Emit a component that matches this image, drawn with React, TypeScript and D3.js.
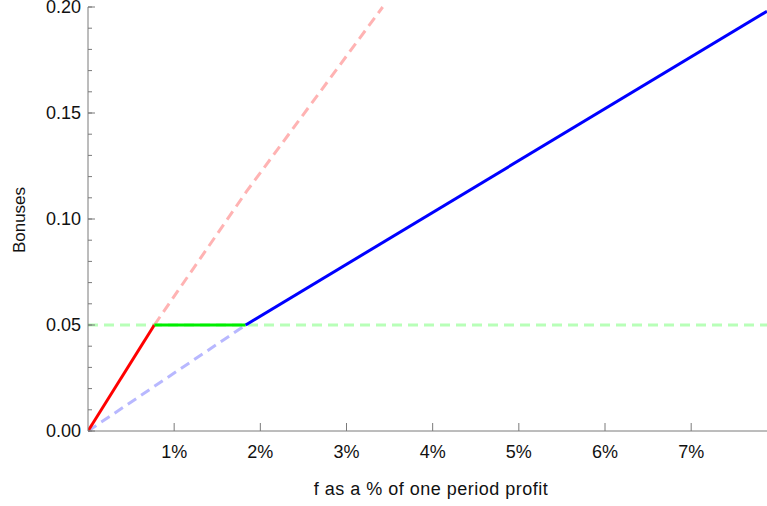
import React from "react";
import * as d3 from "d3";

// Bonus schedules against f (percent of one period profit)
const redSolidF = [0, 0.77];
const redSolidB = [0, 0.05];
const redDashF = [0.77, 1.84, 3.42];
const redDashB = [0.05, 0.113, 0.2];
const blueDashF = [0, 1.83];
const blueDashB = [0, 0.05];
const blueSolidF = [1.83, 7.88];
const blueSolidB = [0.05, 0.198];
const greenSolidF = [0.77, 1.83];
const greenSolidB = [0.05, 0.05];
const greenDashF = [0, 7.88];
const greenDashB = [0.05, 0.05];

const xTicks = [1, 2, 3, 4, 5, 6, 7];
const xTickLabels = ["1%", "2%", "3%", "4%", "5%", "6%", "7%"];
const yTicks = [0, 0.05, 0.1, 0.15, 0.2];
const yTickLabels = ["0.00", "0.05", "0.10", "0.15", "0.20"];
const yMinorTicks = d3.range(0, 21).map((i) => i / 100);

const W = 767;
const H = 506;
const FONT = "'Liberation Sans', Arial, sans-serif";
const AXIS = "#7a7a7a";

export default function App() {
  const x = d3.scaleLinear().domain([0, 7.88]).range([88, 767]);
  const y = d3.scaleLinear().domain([0, 0.2]).range([431, 7]);

  const path = (fs: number[], bs: number[]) =>
    d3
      .line<number>()
      .x((_, i) => x(fs[i]))
      .y((_, i) => y(bs[i]))(fs.map((_, i) => i)) || "";

  const series = [
    { f: greenDashF, b: greenDashB, color: "#b8ffb8", dash: "10,6" },
    { f: redDashF, b: redDashB, color: "#ffb3b3", dash: "10,6" },
    { f: blueDashF, b: blueDashB, color: "#b8b8ff", dash: "10,6" },
    { f: redSolidF, b: redSolidB, color: "#ff0000", dash: undefined },
    { f: greenSolidF, b: greenSolidB, color: "#00ee00", dash: undefined },
    { f: blueSolidF, b: blueSolidB, color: "#0000ff", dash: undefined },
  ];

  return (
    <svg
      width={W}
      height={H}
      style={{ position: "absolute", left: 0, top: 0, background: "#fff" }}
      fontFamily={FONT}
    >
      <defs>
        <clipPath id="plot">
          <rect x={88} y={y(0.2) - 2} width={W - 88} height={y(0) - y(0.2) + 4} />
        </clipPath>
      </defs>

      <g clipPath="url(#plot)">
        {series.map((s, i) => (
          <path
            key={i}
            d={path(s.f, s.b)}
            fill="none"
            stroke={s.color}
            strokeWidth={3}
            strokeDasharray={s.dash}
          />
        ))}
      </g>

      {/* y axis */}
      <line x1={88} x2={88} y1={y(0.2)} y2={y(0)} stroke={AXIS} strokeWidth={1} />
      {yMinorTicks.map((t) => (
        <line key={t} x1={88} x2={92} y1={y(t)} y2={y(t)} stroke={AXIS} strokeWidth={1} />
      ))}
      {yTicks.map((t, i) => (
        <g key={t}>
          <line x1={88} x2={95} y1={y(t)} y2={y(t)} stroke={AXIS} strokeWidth={1} />
          <text x={81} y={y(t)} dy="0.36em" textAnchor="end" fontSize={18} fill="#111">
            {yTickLabels[i]}
          </text>
        </g>
      ))}

      {/* x axis */}
      <line x1={88} x2={W} y1={y(0)} y2={y(0)} stroke={AXIS} strokeWidth={1} />
      {xTicks.map((t, i) => (
        <g key={t}>
          <line x1={x(t)} x2={x(t)} y1={y(0)} y2={y(0) - 8} stroke={AXIS} strokeWidth={1} />
          <text x={x(t)} y={458} textAnchor="middle" fontSize={18} fill="#111">
            {xTickLabels[i]}
          </text>
        </g>
      ))}

      <text
        x={431}
        y={495}
        textAnchor="middle"
        fontSize={18}
        letterSpacing={0.5}
        fill="#111"
      >
        f as a % of one period profit
      </text>
      <text
        transform={`translate(25,220) rotate(-90)`}
        textAnchor="middle"
        fontSize={17}
        fill="#111"
      >
        Bonuses
      </text>
    </svg>
  );
}
